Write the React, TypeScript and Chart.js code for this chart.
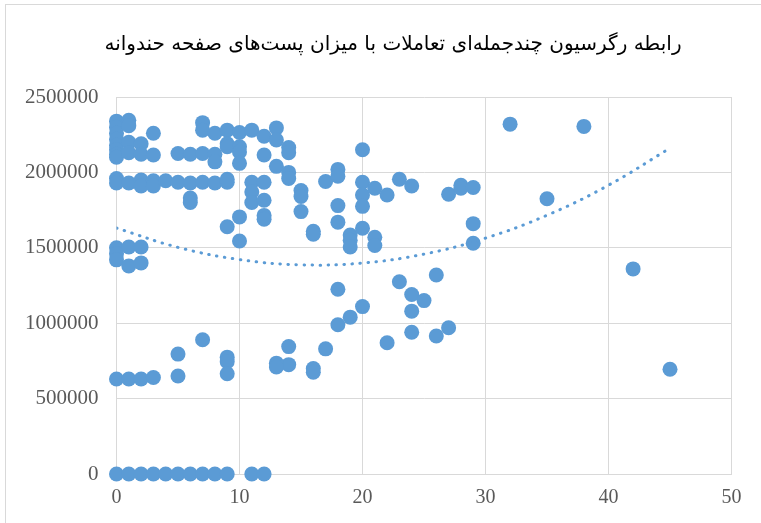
import React, { useEffect, useRef } from "react";
import { Chart, registerables } from "chart.js";

Chart.register(...registerables);

const TITLE = "رابطه رگرسیون چندجمله‌ای تعاملات با میزان پست‌های صفحه حندوانه";

// number of posts (x) per observation
const postsX: number[] = [
  // top cluster
  0, 0, 0, 0, 0, 0, 0, 0,
  1, 1, 1, 1,
  2, 2,
  3, 3,
  5, 6,
  7, 7, 7,
  8, 8, 8,
  9, 9, 9,
  10, 10, 10, 10,
  11,
  12, 12,
  13, 13, 13,
  14, 14, 14,
  20, 32, 38,
  // ~1.9M row and middle
  0, 0, 1, 2, 2, 3, 3, 4, 5,
  6, 6, 6, 7, 8, 9, 9,
  11, 11, 11,
  12, 12, 12, 12,
  10, 10, 9,
  14, 15, 15, 15,
  16, 16, 17,
  18, 18, 18, 18,
  19, 19, 19,
  20, 20, 20, 20,
  21, 21, 21,
  22, 23, 24, 27, 28, 28,
  29, 29, 29, 35, 42,
  // lower
  0, 0, 0, 1, 1, 2, 2,
  18, 18, 19, 20, 22, 23,
  24, 24, 24, 25, 26, 26, 27,
  17, 16, 16, 14, 14, 13, 13, 45,
  0, 1, 2, 3, 5, 5, 7, 9, 9, 9,
  // zero row
  0, 1, 2, 3, 4, 5, 6, 7, 8, 9, 11, 12,
];

// engagement (y) per observation
const engagementY: number[] = [
  2340000, 2300000, 2260000, 2220000, 2180000, 2150000, 2120000, 2100000,
  2345000, 2310000, 2200000, 2130000,
  2190000, 2120000,
  2260000, 2115000,
  2125000, 2120000,
  2330000, 2280000, 2125000,
  2260000, 2120000, 2070000,
  2280000, 2190000, 2170000,
  2265000, 2170000, 2135000, 2060000,
  2280000,
  2240000, 2115000,
  2295000, 2215000, 2040000,
  2165000, 2130000, 2000000,
  2150000, 2320000, 2305000,
  1960000, 1930000, 1930000, 1950000, 1910000, 1945000, 1910000, 1945000, 1935000,
  1930000, 1830000, 1800000, 1935000, 1930000, 1935000, 1955000,
  1935000, 1870000, 1800000,
  1935000, 1815000, 1715000, 1690000,
  1705000, 1545000, 1640000,
  1960000, 1880000, 1840000, 1740000,
  1610000, 1590000, 1940000,
  2020000, 1975000, 1780000, 1670000,
  1585000, 1550000, 1505000,
  1935000, 1850000, 1775000, 1630000,
  1895000, 1570000, 1515000,
  1850000, 1955000, 1910000, 1855000, 1915000, 1895000,
  1900000, 1660000, 1530000, 1825000, 1360000,
  1500000, 1460000, 1420000, 1505000, 1380000, 1505000, 1400000,
  1225000, 990000, 1040000, 1110000, 870000, 1275000,
  1190000, 1080000, 940000, 1150000, 1320000, 915000, 970000,
  830000, 700000, 675000, 845000, 725000, 735000, 710000, 695000,
  630000, 630000, 630000, 640000, 795000, 650000, 890000, 775000, 745000, 665000,
  0, 0, 0, 0, 0, 0, 0, 0, 0, 0, 0, 0,
];

// polynomial trendline
const trendX: number[] = [0, 5, 10, 15, 20, 25, 30, 35, 40, 45];
const trendY: number[] = [1631000, 1503000, 1422000, 1387000, 1399000, 1458000, 1564000, 1716000, 1915000, 2161000];

const xTicks: number[] = [0, 10, 20, 30, 40, 50];
const yTicks: number[] = [0, 500000, 1000000, 1500000, 2000000, 2500000];

const BLUE = "#5b9bd5";
const GRID = "#d9d9d9";

export default function App() {
  const ref = useRef<HTMLCanvasElement | null>(null);

  useEffect(() => {
    if (!ref.current) return;
    const scatterData = postsX.map((x, i) => ({ x, y: engagementY[i] }));
    const trendData = trendX.map((x, i) => ({ x, y: trendY[i] }));

    const framePlugin = {
      id: "frame",
      beforeDraw(chart: any) {
        const ctx = chart.ctx;
        ctx.save();
        ctx.fillStyle = "#ffffff";
        ctx.fillRect(0, 0, chart.width, chart.height);
        ctx.strokeStyle = GRID;
        ctx.lineWidth = 1;
        ctx.strokeRect(5.5, 4.5, chart.width + 20, chart.height + 20);
        ctx.restore();
      },
      afterDraw(chart: any) {
        const ctx = chart.ctx;
        ctx.save();
        ctx.fillStyle = "#000000";
        ctx.font = '20px "DejaVu Sans", "Noto Sans", sans-serif';
        ctx.textAlign = "center";
        ctx.textBaseline = "middle";
        (ctx as any).direction = "rtl";
        ctx.fillText(TITLE, 393, 45);
        ctx.restore();
      },
    };

    const chart = new Chart(ref.current, {
      type: "scatter",
      data: {
        datasets: [
          {
            type: "line",
            label: "trend",
            data: trendData,
            borderColor: BLUE,
            borderWidth: 3,
            borderDash: [0.5, 7.5],
            borderCapStyle: "round",
            pointRadius: 0,
            tension: 0.4,
            fill: false,
          } as any,
          {
            label: "data",
            data: scatterData,
            backgroundColor: BLUE,
            borderColor: BLUE,
            borderWidth: 0,
            pointRadius: 7.5,
            pointHoverRadius: 7.5,
            clip: false,
          } as any,
        ],
      },
      options: {
        responsive: false,
        animation: false,
        layout: { padding: { top: 97, right: 29.5, bottom: 0, left: 0 } },
        plugins: {
          legend: { display: false },
          tooltip: { enabled: false },
          title: { display: false },
        },
        scales: {
          x: {
            type: "linear",
            min: 0,
            max: 50,
            afterFit: (s: any) => {
              s.height = 49;
            },
            afterBuildTicks: (s: any) => {
              s.ticks = xTicks.map((v) => ({ value: v }));
            },
            grid: { color: GRID, lineWidth: 1, drawTicks: false },
            border: { color: GRID, width: 1 },
            ticks: {
              padding: 12,
              color: "#595959",
              font: { family: '"Liberation Serif", "Times New Roman", serif', size: 20 },
              callback: (v: any) => String(v),
              maxRotation: 0,
            },
          },
          y: {
            type: "linear",
            min: 0,
            max: 2500000,
            afterFit: (s: any) => {
              s.width = 116.5;
            },
            afterBuildTicks: (s: any) => {
              s.ticks = yTicks.map((v) => ({ value: v }));
            },
            grid: { color: GRID, lineWidth: 1, drawTicks: false },
            border: { color: GRID, width: 1 },
            ticks: {
              padding: 18,
              color: "#595959",
              font: { family: '"Liberation Serif", "Times New Roman", serif', size: 21 },
              callback: (v: any) => String(v),
            },
          },
        },
      },
      plugins: [framePlugin],
    });
    return () => chart.destroy();
  }, []);

  return (
    <div style={{ position: "fixed", left: 0, top: 0, width: 761, height: 523 }}>
      <canvas ref={ref} width={761} height={523} style={{ display: "block" }} />
    </div>
  );
}
